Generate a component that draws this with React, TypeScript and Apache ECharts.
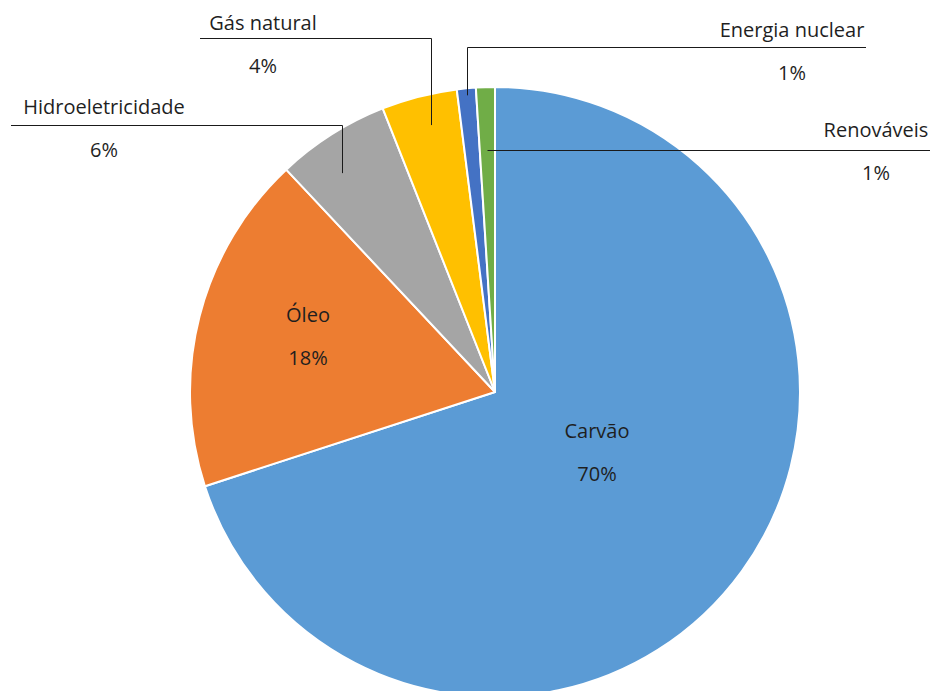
import React, { useEffect, useRef } from 'react';
import * as echarts from 'echarts';

const categories = ['Carvão', 'Óleo', 'Hidroeletricidade', 'Gás natural', 'Energia nuclear', 'Renováveis'];
const shares = [70, 18, 6, 4, 1, 1];
const colors = ['#5B9BD5', '#ED7D31', '#A5A5A5', '#FFC000', '#4472C4', '#70AD47'];
const insideCategories = ['Carvão', 'Óleo'];

const CENTER = [495, 392];
const RADIUS = 305;

type Place = { x: number; y: number; lineY?: number; endX?: number; k?: number; da?: number };
const placement: Record<string, Place> = {
  'Carvão': { x: 597, y: 452 },
  'Óleo': { x: 308, y: 336 },
  'Hidroeletricidade': { x: 104, y: 127.5, lineY: 125, endX: 11, k: 0.875, da: 2.5 },
  'Gás natural': { x: 263, y: 43.5, lineY: 38, endX: 200, k: 0.9, da: -0.9 },
  'Energia nuclear': { x: 792, y: 50.5, lineY: 47, endX: 866, k: 0.977, da: 0 },
  'Renováveis': { x: 876, y: 151, lineY: 150, endX: 930, k: 0.79, da: 0 },
};

const TEXT = '#1f1f1f';
const FONT = 'Open Sans';

const crisp = (v: number) => Math.round(v) + 0.5;

export default function App() {
  const ref = useRef<HTMLDivElement>(null);
  useEffect(() => {
    if (!ref.current) return;
    const chart = echarts.init(ref.current, undefined, { renderer: 'svg' });
    const total = shares.reduce((a, b) => a + b, 0);
    const midAngles: number[] = [];
    let acc = 0;
    shares.forEach((v) => {
      const a0 = 90 - (acc / total) * 360;
      acc += v;
      const a1 = 90 - (acc / total) * 360;
      midAngles.push((a0 + a1) / 2);
    });
    const data = categories.map((name, i) => {
      const inside = insideCategories.includes(name);
      return {
        name,
        value: shares[i],
        itemStyle: { color: colors[i] },
        label: { position: inside ? 'inside' : 'outside' },
      };
    });
    const leaders: any[] = [];
    categories.forEach((name, i) => {
      const p = placement[name];
      if (!p || p.endX === undefined || p.lineY === undefined || p.k === undefined) return;
      const a = ((midAngles[i] + (p.da || 0)) * Math.PI) / 180;
      const ax = crisp(CENTER[0] + RADIUS * p.k * Math.cos(a));
      const ay = CENTER[1] - RADIUS * p.k * Math.sin(a);
      const ly = crisp(p.lineY);
      const pts = Math.abs(ay - p.lineY) < 3
        ? [[ax, ly], [p.endX, ly]]
        : [[ax, ay], [ax, ly], [p.endX, ly]];
      leaders.push({
        type: 'polyline',
        silent: true,
        z: 10,
        shape: { points: pts },
        style: { stroke: '#1a1a1a', lineWidth: 1, fill: null },
      });
    });
    chart.setOption({
      animation: false,
      graphic: { elements: leaders },
      series: [
        {
          type: 'pie',
          center: CENTER,
          radius: RADIUS,
          startAngle: 90,
          clockwise: true,
          avoidLabelOverlap: false,
          silent: true,
          data,
          itemStyle: { borderColor: '#ffffff', borderWidth: 2 },
          label: {
            show: true,
            color: TEXT,
            fontFamily: FONT,
            fontSize: 20,
            lineHeight: 43,
            align: 'center',
            formatter: (p: any) => `${p.name}\n${Math.round(p.percent)}%`,
          },
          labelLine: { show: false },
          labelLayout: (params: any) => {
            const p = placement[categories[params.dataIndex]];
            if (!p) return {};
            return { x: p.x, y: p.y, align: 'center', verticalAlign: 'middle' };
          },
        },
      ],
    });
    return () => chart.dispose();
  }, []);
  return (
    <div
      ref={ref}
      style={{ position: 'absolute', left: 0, top: 0, width: 930, height: 691, background: '#ffffff' }}
    />
  );
}
